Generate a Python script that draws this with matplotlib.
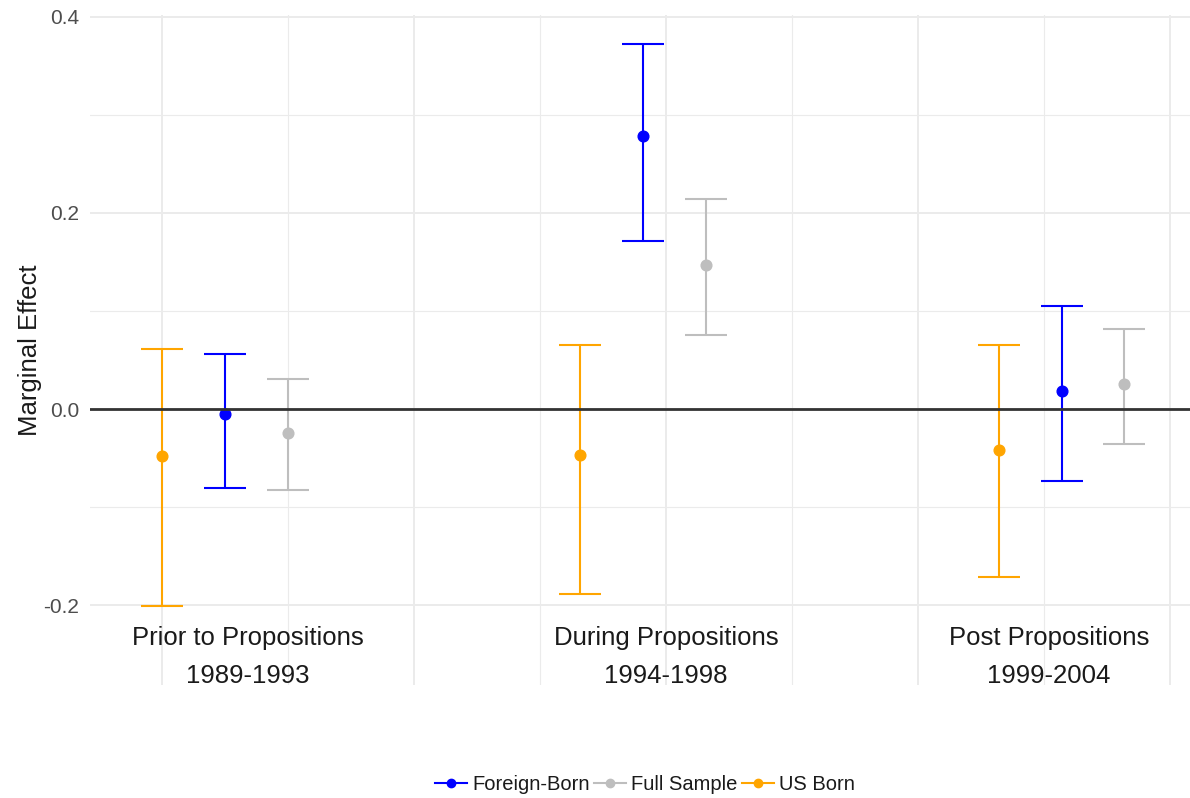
import numpy as np
import matplotlib
matplotlib.use('Agg')
import matplotlib.pyplot as plt
from matplotlib.lines import Line2D

plt.rcParams['font.family'] = ['Liberation Sans', 'DejaVu Sans']

periods = ['Prior to Propositions', 'During Propositions', 'Post Propositions']
years = ['1989-1993', '1994-1998', '1999-2004']

# marginal effects with lower / upper confidence bounds
us_est = [-0.048, -0.047, -0.042]
us_lo = [-0.201, -0.189, -0.171]
us_hi = [0.061, 0.065, 0.065]

fb_est = [-0.005, 0.279, 0.018]
fb_lo = [-0.081, 0.171, -0.073]
fb_hi = [0.056, 0.372, 0.105]

full_est = [-0.024, 0.147, 0.026]
full_lo = [-0.083, 0.076, -0.036]
full_hi = [0.031, 0.214, 0.082]

group_x = np.array([1.0, 1.83, 2.66])
label_x = [1.17, 2.0, 2.76]

series = [
    ('Foreign-Born', fb_est, fb_lo, fb_hi, 'blue', 0.125),
    ('Full Sample', full_est, full_lo, full_hi, '#bebebe', 0.25),
    ('US Born', us_est, us_lo, us_hi, '#ffa500', 0.0),
]

fig = plt.figure(figsize=(11.9, 7.98), dpi=100)
ax = fig.add_axes([90 / 1190, 1 - 685 / 798, 1100 / 1190, 670 / 798])

handles = []
for name, est, lo, hi, col, off in series:
    est = np.array(est)
    err = np.vstack([est - np.array(lo), np.array(hi) - est])
    ax.errorbar(group_x + off, est, yerr=err, fmt='o', color=col,
                ms=7.7, lw=1.5, capsize=15, capthick=1.5, zorder=2)
    handles.append(Line2D([], [], color=col, lw=1.5, marker='o', ms=6))

ax.axhline(0, color='#333333', lw=2, zorder=3)

for x, p, yr in zip(label_x, periods, years):
    ax.text(x, -0.2527, p + '\n' + yr, ha='center', va='center',
            fontsize=18.5, color='#1a1a1a', linespacing=1.75, clip_on=False)

ax.set_xlim(0.857, 3.04)
ax.set_ylim(-0.2816, 0.402)
ax.set_xticks(np.arange(1.0, 3.01, 0.5))
ax.set_xticks(np.arange(1.25, 3.0, 0.5), minor=True)
ax.set_yticks([-0.2, 0.0, 0.2, 0.4])
ax.set_yticks([-0.1, 0.1, 0.3], minor=True)
ax.set_yticklabels(['-0.2', '0.0', '0.2', '0.4'])
ax.tick_params(axis='x', which='both', length=0, labelbottom=False)
ax.tick_params(axis='y', which='both', length=0, labelsize=15,
               labelcolor='#4d4d4d', pad=8)
ax.grid(which='major', color='#ebebeb', lw=1.4)
ax.grid(which='minor', color='#ebebeb', lw=0.8)
ax.set_axisbelow(True)
for s in ax.spines.values():
    s.set_visible(False)

ax.set_ylabel('Marginal Effect', fontsize=18.5, color='#1a1a1a')
ax.yaxis.set_label_coords(-0.0434, 0.5)

fig.legend(handles=handles, labels=[s[0] for s in series], loc='center',
           bbox_to_anchor=(645 / 1190, 1 - 785 / 798), ncol=3, frameon=False,
           fontsize=14.5, handlelength=1.6, handletextpad=0.25,
           columnspacing=0.2, labelcolor='#1a1a1a')

fig.savefig('out.png', dpi=100, facecolor='white')
